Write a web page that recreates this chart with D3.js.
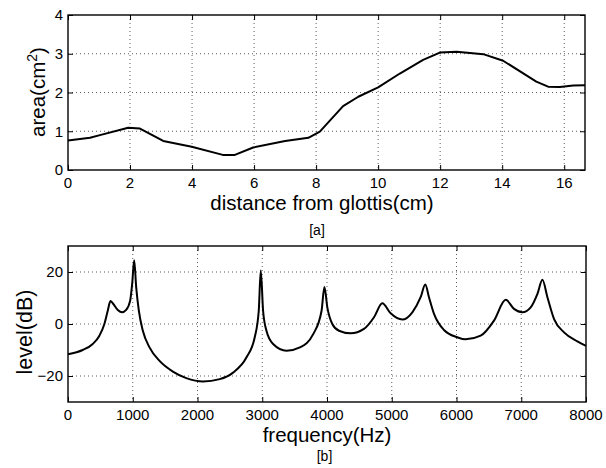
<!DOCTYPE html>
<html>
<head>
<meta charset="utf-8">
<script src="https://cdn.jsdelivr.net/npm/d3@7"></script>
<style>
  html, body { margin: 0; padding: 0; background: #fff; }
  svg { display: block; font-family: "Liberation Sans", Arial, Helvetica, sans-serif; }
</style>
</head>
<body>
<svg id="chart" width="606" height="468"></svg>
<script>
// ---- Data: vocal tract area function [a] ----
const areaX = [0, 0.71, 1.03, 1.94, 2.32, 3.07, 3.99, 4.99, 5.38, 5.97, 7.0, 7.75, 8.12, 8.87, 9.36, 10.0, 10.7, 11.45, 11.99, 12.53, 13.39, 14.03, 15.1, 15.48, 15.86, 16.29, 16.67];
const areaY = [0.76, 0.83, 0.90, 1.09, 1.07, 0.75, 0.60, 0.39, 0.39, 0.58, 0.75, 0.83, 0.99, 1.65, 1.89, 2.13, 2.49, 2.84, 3.03, 3.05, 2.99, 2.82, 2.28, 2.15, 2.14, 2.18, 2.19];
const areaXTicks = [0, 2, 4, 6, 8, 10, 12, 14, 16];
const areaYTicks = [0, 1, 2, 3, 4];

// ---- Data: transfer function spectrum [b] ----
const freq = [0, 227, 382, 485, 562, 614, 655, 691, 769, 836, 898, 960, 991, 1022, 1053, 1094, 1156, 1259, 1414, 1620, 1827, 2085, 2343, 2549, 2755, 2884, 2946, 2977, 3013, 3065, 3168, 3375, 3581, 3787, 3916, 3960, 4005, 4082, 4185, 4365, 4571, 4726, 4854, 4983, 5163, 5318, 5446, 5518, 5575, 5653, 5807, 6013, 6141, 6373, 6579, 6760, 6888, 7017, 7146, 7250, 7327, 7404, 7507, 7661, 7867, 8000];
const level = [-11.6, -10.0, -7.7, -4.5, 0, 5.1, 8.8, 8.0, 5.4, 4.5, 5.4, 9.0, 15.4, 24.5, 14.2, 5.1, -2.6, -9.0, -14.2, -18.3, -20.8, -22.1, -21.2, -18.7, -12.9, -5.1, 5.1, 20.6, 5.1, -2.6, -7.7, -10.3, -9.0, -3.9, 5.1, 14.2, 6.4, 0, -2.6, -3.6, -1.9, 2.6, 8.0, 4.1, 1.7, 4.5, 10.3, 15.2, 10.3, 3.9, -2.3, -5.1, -5.9, -4.5, 1.3, 9.3, 5.8, 4.5, 6.4, 11.6, 17.0, 10.3, 1.9, -3.2, -6.7, -8.4];
const freqTicks = [0, 1000, 2000, 3000, 4000, 5000, 6000, 7000, 8000];
const levelTicks = [-20, 0, 20];

const svg = d3.select("#chart");

function fmt(v) { return v < 0 ? "\u2212" + Math.abs(v) : String(v); }

function panel(opt) {
  const g = svg.append("g");
  const x = d3.scaleLinear().domain(opt.xDomain).range([opt.left, opt.right]);
  const y = d3.scaleLinear().domain(opt.yDomain).range([opt.bottom, opt.top]);

  // grid
  const grid = g.append("g").attr("stroke", "#333").attr("stroke-width", 0.8).attr("stroke-dasharray", "1,3");
  grid.selectAll("line.gx").data(opt.xTicks.filter(t => x(t) > opt.left + 1 && x(t) < opt.right - 1))
    .enter().append("line")
    .attr("x1", d => x(d)).attr("x2", d => x(d)).attr("y1", opt.top).attr("y2", opt.bottom);
  grid.selectAll("line.gy").data(opt.yTicks.filter(t => y(t) > opt.top + 1 && y(t) < opt.bottom - 1))
    .enter().append("line")
    .attr("y1", d => y(d)).attr("y2", d => y(d)).attr("x1", opt.left).attr("x2", opt.right);

  // data line
  const line = d3.line().x(d => x(d[0])).y(d => y(d[1])).curve(opt.curve);
  g.append("path").datum(d3.zip(opt.xs, opt.ys))
    .attr("fill", "none").attr("stroke", "#000").attr("stroke-width", 2)
    .attr("stroke-linejoin", "round").attr("d", line);

  // axes with inward ticks (bottom/top/left/right)
  const tl = 5;
  const ax = g.append("g").attr("font-size", 15).attr("fill", "#000");
  const xb = d3.axisBottom(x).tickValues(opt.xTicks).tickSizeInner(-tl).tickSizeOuter(0).tickFormat("");
  const xt = d3.axisTop(x).tickValues(opt.xTicks).tickSizeInner(-tl).tickSizeOuter(0).tickFormat("");
  const yl = d3.axisLeft(y).tickValues(opt.yTicks).tickSizeInner(-tl).tickSizeOuter(0).tickFormat("");
  const yr = d3.axisRight(y).tickValues(opt.yTicks).tickSizeInner(-tl).tickSizeOuter(0).tickFormat("");
  [[xb, `translate(0,${opt.bottom})`], [xt, `translate(0,${opt.top})`], [yl, `translate(${opt.left},0)`], [yr, `translate(${opt.right},0)`]]
    .forEach(([a, t]) => {
      const s = ax.append("g").attr("transform", t).call(a);
      s.select(".domain").remove();
      s.selectAll("line").attr("stroke", "#000").attr("stroke-width", 1);
    });

  // frame
  g.append("rect").attr("x", opt.left).attr("y", opt.top)
    .attr("width", opt.right - opt.left).attr("height", opt.bottom - opt.top)
    .attr("fill", "none").attr("stroke", "#000").attr("stroke-width", 1.4);

  // tick labels
  g.append("g").selectAll("text").data(opt.xTicks).enter().append("text")
    .attr("x", d => x(d)).attr("y", opt.xLabelY).attr("text-anchor", "middle")
    .attr("font-size", 15).text(fmt);
  g.append("g").selectAll("text").data(opt.yTicks).enter().append("text")
    .attr("x", opt.left - 5).attr("y", d => y(d)).attr("dy", "0.36em").attr("text-anchor", "end")
    .attr("font-size", 15).text(fmt);

  return { g, x, y };
}

// Panel [a]
const pa = panel({
  left: 68, right: 585, top: 15, bottom: 170,
  xDomain: [0, 16.67], yDomain: [0, 4],
  xTicks: areaXTicks, yTicks: areaYTicks,
  xs: areaX, ys: areaY, curve: d3.curveLinear,
  xLabelY: 188
});
svg.append("text").attr("x", 322).attr("y", 210).attr("text-anchor", "middle")
  .attr("font-size", 20.5).text("distance from glottis(cm)");
svg.append("text").attr("x", 317).attr("y", 235).attr("text-anchor", "middle")
  .attr("font-size", 14).text("[a]");
const yla = svg.append("text").attr("transform", "translate(45,92) rotate(-90)")
  .attr("text-anchor", "middle").attr("font-size", 20.5);
yla.append("tspan").text("area(cm");
yla.append("tspan").attr("font-size", 14).attr("dy", -8).text("2");
yla.append("tspan").attr("dy", 8).text(")");

// Panel [b]
const pb = panel({
  left: 68, right: 586, top: 246, bottom: 402,
  xDomain: [0, 8000], yDomain: [-30, 30],
  xTicks: freqTicks, yTicks: levelTicks,
  xs: freq, ys: level, curve: d3.curveMonotoneX,
  xLabelY: 419.5
});
svg.append("text").attr("x", 327).attr("y", 441.5).attr("text-anchor", "middle")
  .attr("font-size", 20.5).text("frequency(Hz)");
svg.append("text").attr("x", 324.5).attr("y", 461).attr("text-anchor", "middle")
  .attr("font-size", 14).text("[b]");
svg.append("text").attr("transform", "translate(31.5,332) rotate(-90)")
  .attr("text-anchor", "middle").attr("font-size", 21.5).text("level(dB)");
</script>
</body>
</html>
